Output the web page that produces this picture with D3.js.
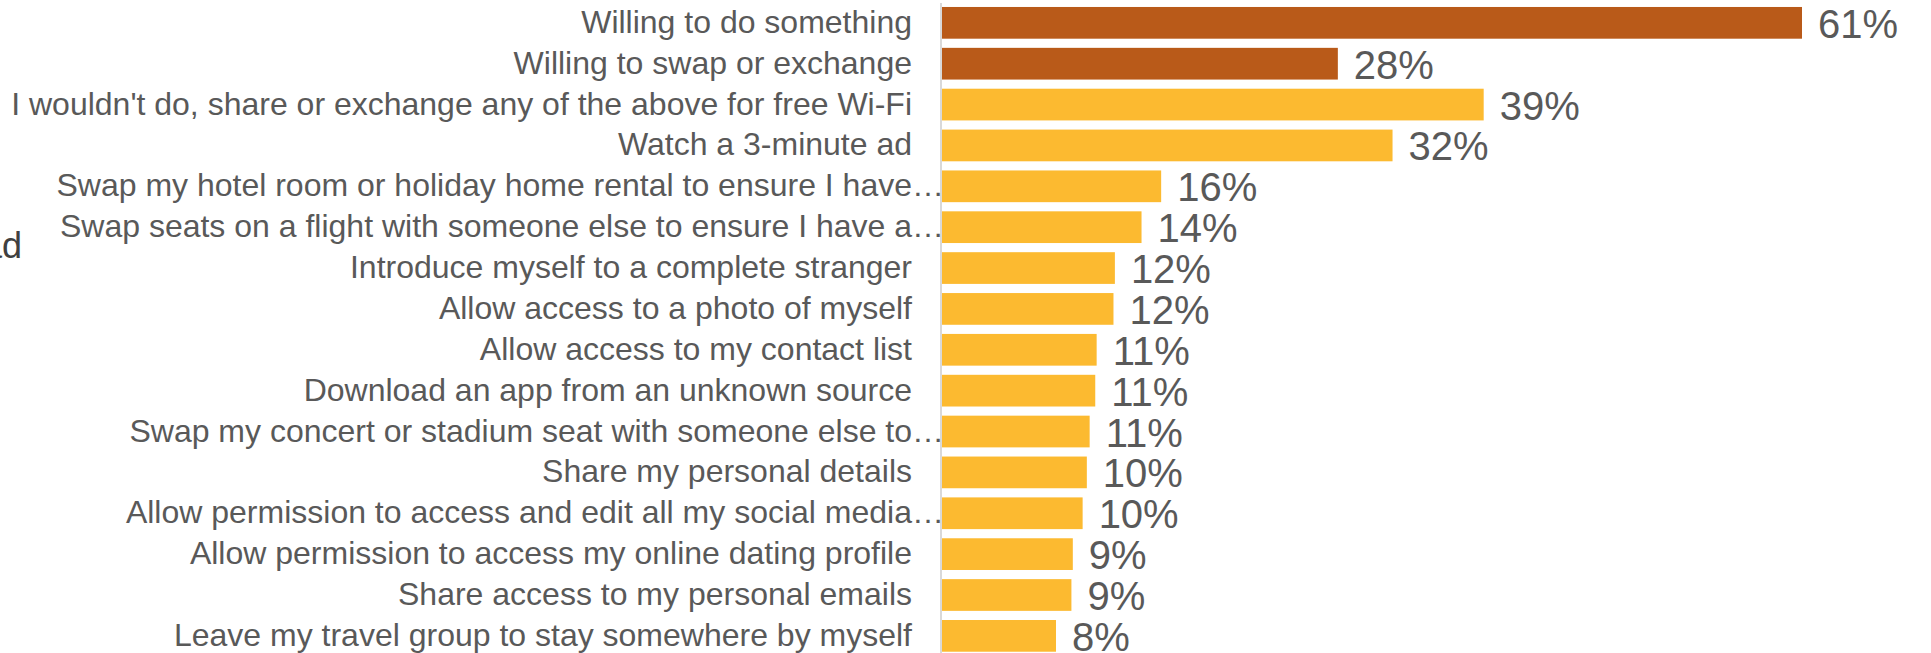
<!DOCTYPE html>
<html>
<head>
<meta charset="utf-8">
<script src="https://cdn.jsdelivr.net/npm/d3@7"></script>
<style>
  html, body { margin: 0; padding: 0; background: #ffffff; }
  svg { display: block; }
  text { font-family: "Liberation Sans", Arial, "DejaVu Sans", sans-serif; }
</style>
</head>
<body>
<svg id="chart" width="1931" height="653"></svg>
<script>
// Survey answers: what people would do in exchange for free Wi-Fi
const categories = [
  "Willing to do something",
  "Willing to swap or exchange",
  "I wouldn't do, share or exchange any of the above for free Wi-Fi",
  "Watch a 3-minute ad",
  "Swap my hotel room or holiday home rental to ensure I have…",
  "Swap seats on a flight with someone else to ensure I have a…",
  "Introduce myself to a complete stranger",
  "Allow access to a photo of myself",
  "Allow access to my contact list",
  "Download an app from an unknown source",
  "Swap my concert or stadium seat with someone else to…",
  "Share my personal details",
  "Allow permission to access and edit all my social media…",
  "Allow permission to access my online dating profile",
  "Share access to my personal emails",
  "Leave my travel group to stay somewhere by myself"
];
// Share of respondents (%)
const values = [61.4, 28.3, 38.7, 32.2, 15.7, 14.3, 12.4, 12.3, 11.1, 11.0, 10.6, 10.4, 10.1, 9.4, 9.3, 8.2];
// Summary rows vs. individual answers
const groups = ["summary", "summary", "item", "item", "item", "item", "item", "item",
                "item", "item", "item", "item", "item", "item", "item", "item"];

const colors = { summary: "#B95A19", item: "#FCBA30" };

const svg = d3.select("#chart");
const axisX = 941;

const x = d3.scaleLinear().domain([0, 61.4]).range([axisX, 1802]);
const y = d3.scaleBand()
  .domain(categories)
  .range([2.4, 656.3])
  .paddingInner(0.224)
  .paddingOuter(0.112);

const rows = categories.map((c, i) => ({ c, v: values[i], g: groups[i] }));

// Bars
svg.append("g").selectAll("rect")
  .data(rows)
  .join("rect")
  .attr("x", x(0))
  .attr("y", d => y(d.c))
  .attr("width", d => x(d.v) - x(0))
  .attr("height", y.bandwidth())
  .attr("fill", d => colors[d.g]);

// Category axis line
svg.append("line")
  .attr("x1", axisX).attr("x2", axisX)
  .attr("y1", 3).attr("y2", 653)
  .attr("stroke", "#d9d9d9")
  .attr("stroke-width", 2);

// Category labels
svg.append("g").selectAll("text")
  .data(rows)
  .join("text")
  .attr("x", d => d.c.endsWith("…") ? 944 : 912)
  .attr("y", d => y(d.c) + y.bandwidth() / 2 + 10)
  .attr("text-anchor", "end")
  .attr("font-size", 32)
  .attr("fill", "#595959")
  .text(d => d.c);

// Value labels
svg.append("g").selectAll("text")
  .data(rows)
  .join("text")
  .attr("x", d => x(d.v) + 16)
  .attr("y", d => y(d.c) + y.bandwidth() / 2 + 15)
  .attr("font-size", 40)
  .attr("fill", "#595959")
  .text(d => Math.round(d.v) + "%");

// Clipped text at the left edge
svg.append("text")
  .attr("x", 22)
  .attr("y", 258)
  .attr("text-anchor", "end")
  .attr("font-size", 36)
  .attr("fill", "#404040")
  .text("ad");
</script>
</body>
</html>
